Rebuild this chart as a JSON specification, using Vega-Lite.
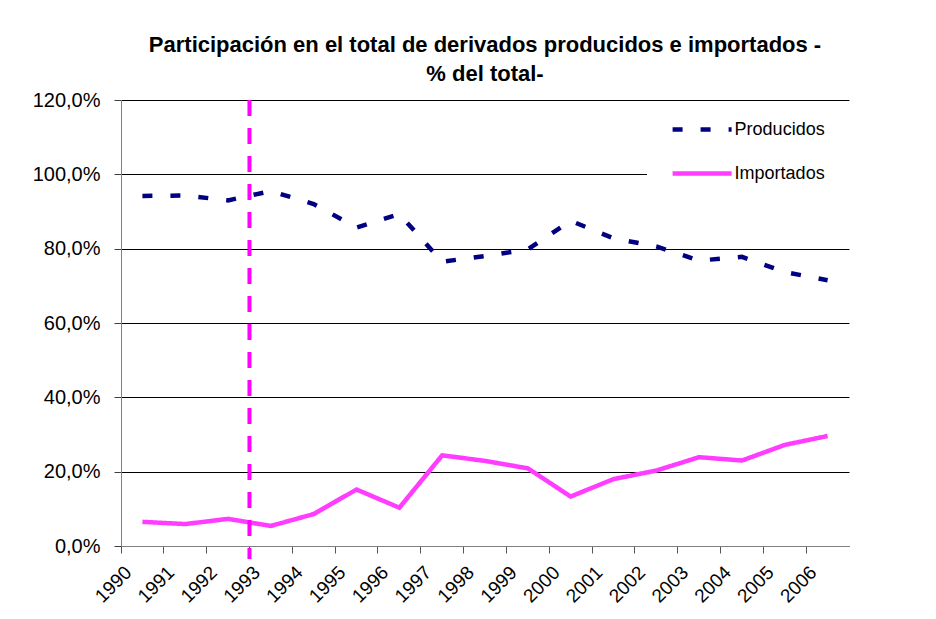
{
  "$schema": "https://vega.github.io/schema/vega-lite/v6.json",
  "autosize": "none",
  "padding": {"left": 121, "top": 100, "right": 87, "bottom": 73},
  "width": 728,
  "height": 446,
  "background": "white",
  "config": {
    "locale": {"number": {"decimal": ",", "thousands": ".", "grouping": [3], "currency": ["", " €"]}},
    "view": {"stroke": null},
    "font": "Liberation Sans"
  },
  "title": {
    "text": ["Participación en el total de derivados producidos e importados -", "% del total-"],
    "font": "Liberation Sans",
    "fontSize": 22,
    "fontWeight": "bold",
    "color": "black",
    "anchor": "middle",
    "lineHeight": 29,
    "offset": 4
  },
  "layer": [
    {
      "data": {"values": [
        {"year": 1990, "serie": "Producidos", "value": 0.942},
        {"year": 1991, "serie": "Producidos", "value": 0.943},
        {"year": 1992, "serie": "Producidos", "value": 0.930},
        {"year": 1993, "serie": "Producidos", "value": 0.955},
        {"year": 1994, "serie": "Producidos", "value": 0.920},
        {"year": 1995, "serie": "Producidos", "value": 0.857},
        {"year": 1996, "serie": "Producidos", "value": 0.893},
        {"year": 1997, "serie": "Producidos", "value": 0.765},
        {"year": 1998, "serie": "Producidos", "value": 0.780},
        {"year": 1999, "serie": "Producidos", "value": 0.798},
        {"year": 2000, "serie": "Producidos", "value": 0.875},
        {"year": 2001, "serie": "Producidos", "value": 0.828},
        {"year": 2002, "serie": "Producidos", "value": 0.806},
        {"year": 2003, "serie": "Producidos", "value": 0.768},
        {"year": 2004, "serie": "Producidos", "value": 0.778},
        {"year": 2005, "serie": "Producidos", "value": 0.737},
        {"year": 2006, "serie": "Producidos", "value": 0.715},
        {"year": 1990, "serie": "Importados", "value": 0.065},
        {"year": 1991, "serie": "Importados", "value": 0.059},
        {"year": 1992, "serie": "Importados", "value": 0.073},
        {"year": 1993, "serie": "Importados", "value": 0.054},
        {"year": 1994, "serie": "Importados", "value": 0.086},
        {"year": 1995, "serie": "Importados", "value": 0.152},
        {"year": 1996, "serie": "Importados", "value": 0.103},
        {"year": 1997, "serie": "Importados", "value": 0.244},
        {"year": 1998, "serie": "Importados", "value": 0.229},
        {"year": 1999, "serie": "Importados", "value": 0.209},
        {"year": 2000, "serie": "Importados", "value": 0.133},
        {"year": 2001, "serie": "Importados", "value": 0.180},
        {"year": 2002, "serie": "Importados", "value": 0.203},
        {"year": 2003, "serie": "Importados", "value": 0.239},
        {"year": 2004, "serie": "Importados", "value": 0.230},
        {"year": 2005, "serie": "Importados", "value": 0.272},
        {"year": 2006, "serie": "Importados", "value": 0.296}
      ]},
      "mark": {"type": "line", "strokeWidth": 4.5, "strokeCap": "butt"},
      "encoding": {
        "x": {
          "field": "year", "type": "ordinal",
          "scale": {"type": "band", "domain": [1990,1991,1992,1993,1994,1995,1996,1997,1998,1999,2000,2001,2002,2003,2004,2005,2006], "paddingInner": 0, "paddingOuter": 0},
          "axis": {
            "title": null, "bandPosition": 0, "labelAngle": -45, "labelAlign": "right", "labelBaseline": "middle",
            "labelFont": "Liberation Sans", "labelFontSize": 19, "labelColor": "black", "labelPadding": 16,
            "tickSize": 7, "tickColor": "#555555", "domainColor": "#808080", "grid": false, "labelOffset": -14
          }
        },
        "y": {
          "field": "value", "type": "quantitative",
          "scale": {"domain": [0, 1.2], "nice": false},
          "axis": {
            "title": null, "values": [0, 0.2, 0.4, 0.6, 0.8, 1.0, 1.2], "format": ".1%",
            "labelFont": "Liberation Sans", "labelFontSize": 20, "labelColor": "black", "labelPadding": 14,
            "tickSize": 7, "tickColor": "#404040", "domainColor": "#808080",
            "grid": true, "gridColor": "black", "gridWidth": 1, "gridOpacity": 1
          }
        },
        "color": {
          "field": "serie", "type": "nominal",
          "scale": {"domain": ["Producidos", "Importados"], "range": ["#000080", "#FF3CFF"]},
          "legend": {
            "orient": "none", "legendX": 526, "legendY": 3, "title": "\u00a0", "titleOrient": "right", "titlePadding": 12, "titleFontSize": 12,
            "symbolType": "M-3,0H3", "symbolSize": 387, "symbolStrokeWidth": 4.5,
            "labelFont": "Liberation Sans", "labelFontSize": 18, "labelColor": "black", "labelOffset": 20,
            "padding": 14, "symbolOffset": 28.6, "fillColor": "white", "rowPadding": 22
          }
        },
        "strokeDash": {
          "field": "serie", "type": "nominal",
          "scale": {"domain": ["Producidos", "Importados"], "range": [[10, 18], [1, 0]]},
          "legend": {
            "orient": "none", "legendX": 526, "legendY": 3, "title": "\u00a0", "titleOrient": "right", "titlePadding": 12, "titleFontSize": 12,
            "symbolType": "M-3,0H3", "symbolSize": 387, "symbolStrokeWidth": 4.5,
            "labelFont": "Liberation Sans", "labelFontSize": 18, "labelColor": "black", "labelOffset": 20,
            "padding": 14, "symbolOffset": 28.6, "fillColor": "white", "rowPadding": 22
          }
        }
      }
    },
    {
      "data": {"values": [{"year": 1993}]},
      "mark": {"type": "rule", "color": "#FF00FF", "strokeWidth": 4, "strokeDash": [16, 12]},
      "encoding": {
        "x": {"field": "year", "type": "ordinal", "bandPosition": 0},
        "y": {"datum": 1.2, "type": "quantitative"},
        "y2": {"datum": -0.035}
      }
    }
  ]
}
